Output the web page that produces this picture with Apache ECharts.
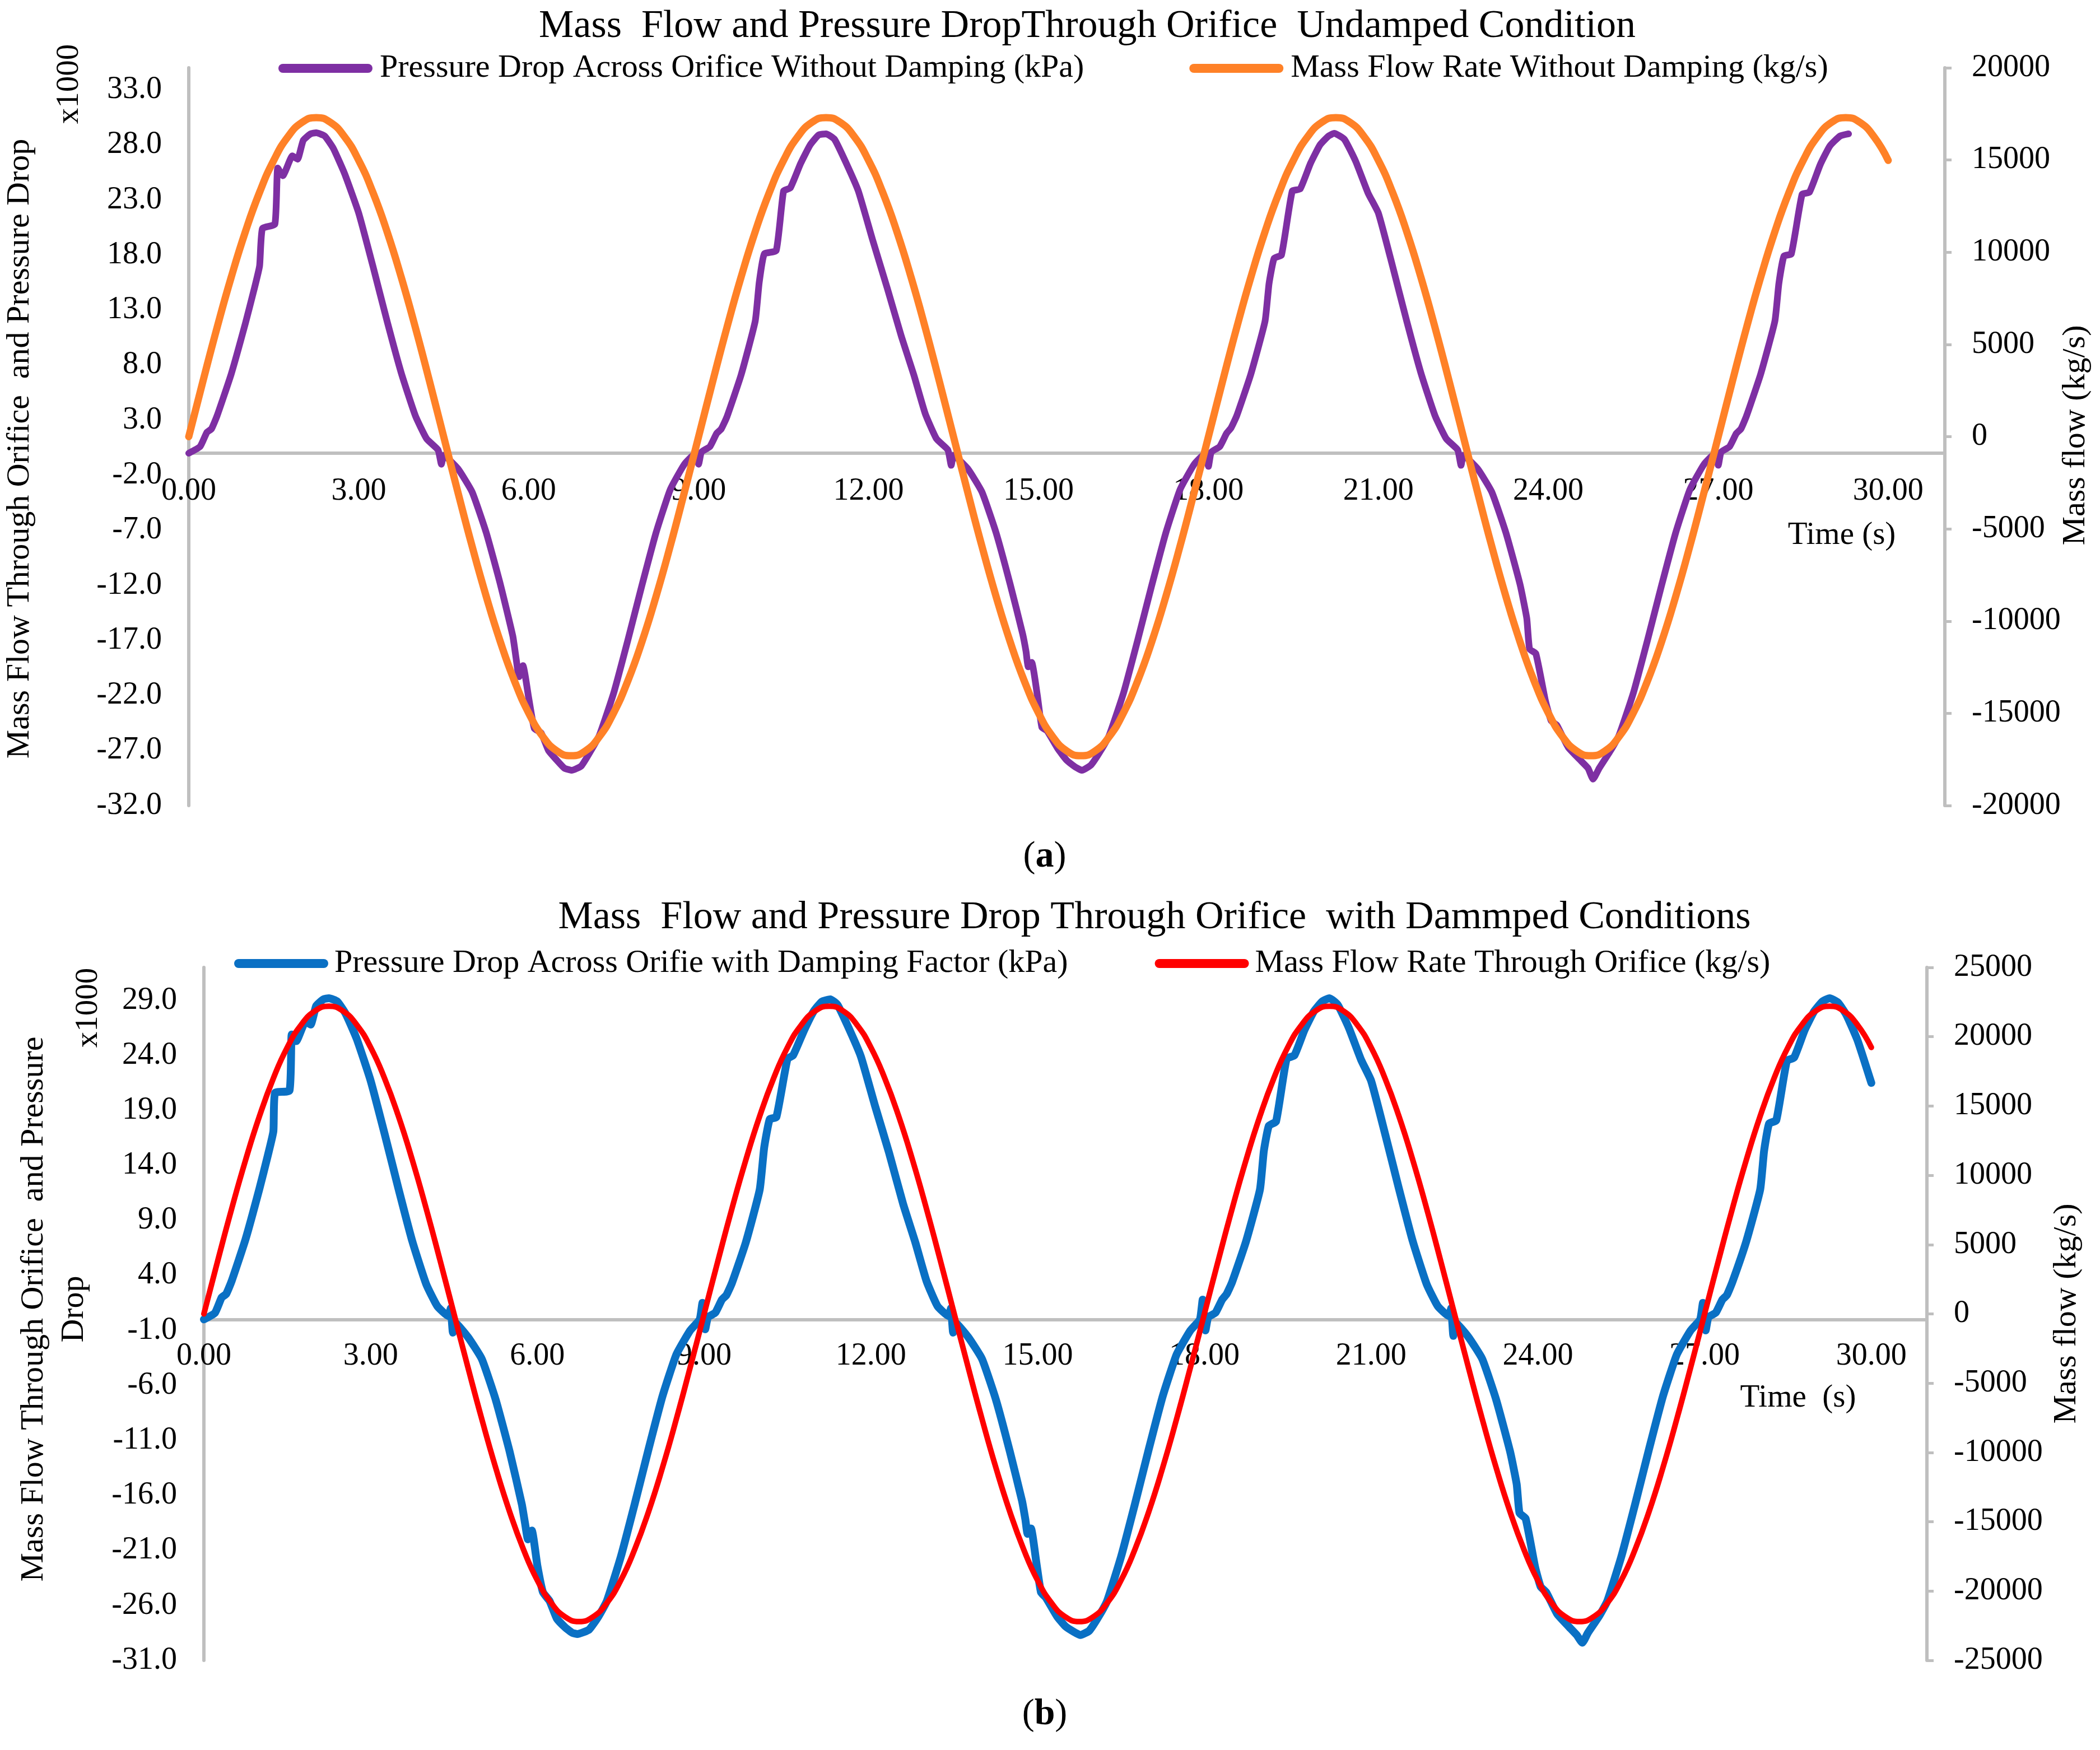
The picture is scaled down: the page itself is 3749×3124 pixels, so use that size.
<!DOCTYPE html>
<html>
<head>
<meta charset="utf-8">
<title>Mass Flow and Pressure Drop Through Orifice</title>
<script src="https://cdn.jsdelivr.net/npm/echarts@6/dist/echarts.min.js"></script>
<style>
html, body { margin: 0; padding: 0; background: #fff; }
#main { width: 3749px; height: 3124px; }
</style>
</head>
<body>
<div id="main"></div>
<script>
// time axis ticks (s) and left-axis label positions (x1000)
var timeTicks = [0, 3, 6, 9, 12, 15, 18, 21, 24, 27, 30];
var leftTicksA = [-32, -27, -22, -17, -12, -7, -2, 3, 8, 13, 18, 23, 28, 33];
var leftTicksB = [-31, -26, -21, -16, -11, -6, -1, 4, 9, 14, 19, 24, 29];

// mass flow samples, every 0.25 s
var massTime = [0,0.25,0.5,0.75,1,1.25,1.5,1.75,2,2.25,2.5,2.75,3,3.25,3.5,3.75,4,4.25,4.5,4.75,5,5.25,5.5,5.75,6,6.25,6.5,6.75,7,7.25,7.5,7.75,8,8.25,8.5,8.75,
  9,9.25,9.5,9.75,10,10.25,10.5,10.75,11,11.25,11.5,11.75,12,12.25,12.5,12.75,13,13.25,13.5,13.75,14,14.25,14.5,14.75,15,15.25,15.5,15.75,16,16.25,16.5,16.75,17,17.25,17.5,17.75,
  18,18.25,18.5,18.75,19,19.25,19.5,19.75,20,20.25,20.5,20.75,21,21.25,21.5,21.75,22,22.25,22.5,22.75,23,23.25,23.5,23.75,24,24.25,24.5,24.75,25,25.25,25.5,25.75,26,26.25,26.5,26.75,
  27,27.25,27.5,27.75,28,28.25,28.5,28.75,29,29.25,29.5,29.75,30];

// (a) mass flow without damping, kg/s
var flowUndamped = [0,3000,5920,8650,11120,13250,14980,16260,17040,17300,17040,16260,14980,13250,11120,8650,5920,3000,0,-3000,-5920,-8650,-11120,-13250,-14980,-16260,-17040,-17300,-17040,-16260,-14980,-13250,-11120,-8650,-5920,-3000,
  0,3000,5920,8650,11120,13250,14980,16260,17040,17300,17040,16260,14980,13250,11120,8650,5920,3000,0,-3000,-5920,-8650,-11120,-13250,-14980,-16260,-17040,-17300,-17040,-16260,-14980,-13250,-11120,-8650,-5920,-3000,
  0,3000,5920,8650,11120,13250,14980,16260,17040,17300,17040,16260,14980,13250,11120,8650,5920,3000,0,-3000,-5920,-8650,-11120,-13250,-14980,-16260,-17040,-17300,-17040,-16260,-14980,-13250,-11120,-8650,-5920,-3000,
  0,3000,5920,8650,11120,13250,14980,16260,17040,17300,17040,16260,14980];

// (b) mass flow through orifice with damping, kg/s
var flowDamped = [0,3850,7590,11100,14270,17000,19230,20860,21860,22200,21860,20860,19230,17000,14270,11100,7590,3850,0,-3850,-7590,-11100,-14270,-17000,-19230,-20860,-21860,-22200,-21860,-20860,-19230,-17000,-14270,-11100,-7590,-3850,
  0,3850,7590,11100,14270,17000,19230,20860,21860,22200,21860,20860,19230,17000,14270,11100,7590,3850,0,-3850,-7590,-11100,-14270,-17000,-19230,-20860,-21860,-22200,-21860,-20860,-19230,-17000,-14270,-11100,-7590,-3850,
  0,3850,7590,11100,14270,17000,19230,20860,21860,22200,21860,20860,19230,17000,14270,11100,7590,3850,0,-3850,-7590,-11100,-14270,-17000,-19230,-20860,-21860,-22200,-21860,-20860,-19230,-17000,-14270,-11100,-7590,-3850,
  0,3850,7590,11100,14270,17000,19230,20860,21860,22200,21860,20860,19230];

// (a) pressure drop without damping, kPa x1000
var dropTimeA = [0,0.2,0.32,0.4,0.5,0.75,1,1.15,1.25,1.3,1.52,1.57,1.66,1.83,1.92,2.02,2.15,2.25,2.4,2.55,2.75,3,3.25,3.5,3.75,4,4.2,4.4,4.46,4.5,4.75,5,5.25,5.5,5.72,5.78,5.83,5.9,6,6.1,6.22,6.35,6.5,6.63,6.76,6.93,7.1,7.25,7.5,7.75,8,8.25,8.5,8.75,8.95,
  9,9.05,9.2,9.32,9.4,9.5,9.75,10,10.07,10.16,10.37,10.5,10.62,10.8,10.97,11.12,11.25,11.4,11.6,11.82,12.07,12.33,12.58,12.8,13,13.2,13.4,13.46,13.5,13.75,14,14.25,14.5,14.72,14.78,14.82,14.88,14.98,15.06,15.15,15.35,15.5,15.65,15.77,15.93,16.1,16.25,16.5,16.75,17,17.25,17.5,17.75,17.95,
  18,18.05,18.2,18.32,18.4,18.5,18.75,19,19.07,19.16,19.29,19.48,19.62,19.8,19.97,20.12,20.22,20.4,20.6,20.82,21,21.25,21.5,21.75,22,22.2,22.4,22.46,22.5,22.75,23,23.25,23.5,23.62,23.67,23.78,23.95,24.05,24.15,24.35,24.55,24.7,24.79,24.9,25.1,25.25,25.5,25.75,26,26.25,26.5,26.75,26.95,
  27,27.05,27.2,27.32,27.4,27.5,27.75,28,28.07,28.16,28.29,28.48,28.61,28.8,28.97,29.15,29.3];
var dropUndamped = [0,0.6,1.9,2.2,3.4,7.2,11.8,14.8,17.0,20.4,20.8,25.9,25.2,27.0,26.7,28.4,29.0,29.1,28.8,27.7,25.4,21.8,17.0,12.0,7.3,3.4,1.3,0.3,-1.0,-0.2,-1.4,-3.5,-7.2,-11.9,-16.6,-18.7,-20.3,-19.3,-22.2,-25.0,-25.4,-27.0,-27.9,-28.6,-28.8,-28.4,-27.0,-25.6,-21.8,-17.0,-12.0,-7.2,-3.3,-1.0,0.0,
  -1.0,0.1,0.6,1.8,2.2,3.3,7.1,12.0,15.5,18.1,18.4,23.8,24.1,26.3,28.0,28.9,29.0,28.5,26.4,23.8,19.4,15.0,10.6,7.1,3.6,1.3,0.3,-1.1,-0.2,-1.4,-3.5,-7.2,-11.9,-16.4,-18.0,-19.4,-19.0,-22.0,-24.9,-25.2,-26.9,-27.9,-28.5,-28.8,-28.3,-27.0,-25.6,-21.8,-17.0,-12.0,-7.2,-3.3,-1.0,0.0,
  -1.2,0.1,0.6,1.8,2.3,3.4,7.2,12.0,15.4,17.7,18.0,23.8,24.0,26.3,28.0,28.8,29.05,28.5,26.5,23.6,21.8,17.0,12.0,7.3,3.4,1.3,0.3,-1.1,-0.2,-1.4,-3.5,-7.2,-11.9,-15.0,-17.8,-18.2,-22.5,-24.3,-24.7,-26.7,-27.8,-28.6,-29.6,-28.6,-27.0,-25.6,-21.8,-17.0,-12.0,-7.2,-3.3,-1.0,0.0,
  -1.1,0.1,0.6,1.8,2.2,3.4,7.2,12.0,15.4,17.9,18.1,23.5,23.7,26.2,27.9,28.8,29.0];

// (b) pressure drop with damping factor, kPa x1000
var dropTimeB = [0,0.2,0.32,0.4,0.5,0.75,1,1.15,1.25,1.28,1.54,1.58,1.66,1.83,1.92,2.02,2.15,2.25,2.4,2.55,2.75,3,3.25,3.5,3.75,4,4.2,4.4,4.44,4.48,4.52,4.75,5,5.25,5.5,5.72,5.78,5.83,5.9,6,6.1,6.22,6.35,6.5,6.63,6.72,6.93,7.1,7.25,7.5,7.75,8,8.25,8.5,8.75,8.92,8.97,
  9.02,9.07,9.2,9.32,9.4,9.5,9.75,10,10.08,10.18,10.3,10.5,10.6,10.8,10.97,11.12,11.27,11.4,11.6,11.82,12.07,12.33,12.58,12.8,13,13.2,13.4,13.44,13.48,13.52,13.75,14,14.25,14.5,14.72,14.78,14.82,14.88,14.98,15.06,15.15,15.35,15.5,15.65,15.77,15.93,16.1,16.25,16.5,16.75,17,17.25,17.5,17.75,17.92,17.97,
  18.02,18.07,18.2,18.32,18.4,18.5,18.75,19,19.07,19.16,19.29,19.48,19.62,19.8,19.97,20.12,20.25,20.4,20.6,20.82,21,21.25,21.5,21.75,22,22.2,22.4,22.44,22.48,22.52,22.75,23,23.25,23.5,23.62,23.67,23.78,23.95,24.05,24.15,24.35,24.55,24.7,24.8,24.9,25.1,25.25,25.5,25.75,26,26.25,26.5,26.75,26.92,26.97,
  27.02,27.07,27.2,27.32,27.4,27.5,27.75,28,28.07,28.16,28.29,28.48,28.61,28.8,28.97,29.12,29.25,29.4,29.55,29.75,30];
var dropDamped = [0,0.6,2.0,2.3,3.5,7.3,11.9,14.9,17.1,20.6,20.8,25.9,25.3,27.1,26.8,28.5,29.1,29.2,28.9,27.8,25.5,21.7,16.9,11.9,7.1,3.2,1.2,0.3,1.0,-1.2,-0.3,-1.6,-3.6,-7.3,-12.0,-16.8,-18.6,-20.0,-19.2,-22.4,-24.8,-25.6,-27.2,-28.0,-28.5,-28.6,-28.2,-27.0,-25.6,-21.6,-16.8,-11.8,-7.0,-3.2,-1.0,0.0,1.5,
  -0.9,0.2,0.6,1.8,2.2,3.3,7.0,11.8,15.6,18.2,18.4,23.7,24.0,26.3,28.0,28.9,29.1,28.6,26.5,23.9,19.5,15.1,10.5,7.0,3.5,1.2,0.3,1.0,-1.2,-0.3,-1.6,-3.6,-7.3,-12.0,-16.5,-18.2,-19.5,-19.0,-22.2,-24.8,-25.3,-27.0,-27.9,-28.4,-28.7,-28.3,-27.0,-25.6,-21.6,-16.8,-11.8,-7.0,-3.2,-1.0,0.0,1.8,
  -1.0,0.2,0.6,1.8,2.3,3.4,7.1,11.8,15.3,17.6,18.0,23.7,24.0,26.3,28.0,28.9,29.2,28.6,26.5,23.6,21.7,16.9,11.9,7.1,3.2,1.2,0.3,1.0,-1.5,-0.3,-1.6,-3.6,-7.3,-12.0,-15.0,-17.6,-18.1,-22.5,-24.3,-24.8,-26.8,-27.9,-28.7,-29.4,-28.5,-27.0,-25.6,-21.6,-16.8,-11.8,-7.0,-3.2,-1.0,0.0,1.5,
  -1.0,0.2,0.6,1.8,2.2,3.4,7.1,11.8,15.3,17.8,18.1,23.5,23.8,26.3,28.0,28.9,29.2,28.8,27.7,25.4,21.5];

var FONT = '"Liberation Serif", "Times New Roman", serif';
var AXIS_GREY = '#bfbfbf';

// grid geometry
var gridA = { left: 337, top: 121, width: 3135, height: 1317 };
var gridB = { left: 364, top: 1727, width: 3076, height: 1237 };

function zip(xs, ys) {
    return xs.map(function (x, i) { return [x, ys[i]]; });
}

function txt(x, y, text, size, rotate, extra) {
    var style = {
        text: text,
        fill: '#000',
        fontSize: size,
        fontFamily: FONT,
        align: 'center',
        textAlign: 'center',
        verticalAlign: 'middle',
        textVerticalAlign: 'middle'
    };
    if (extra) {
        for (var k in extra) { style[k] = extra[k]; }
    }
    return { type: 'text', x: x, y: y, rotation: rotate ? Math.PI / 2 : 0, silent: true, style: style };
}

// time axis drawn across the zero of the left axis: pull it up from the grid bottom
function timeAxis(gridIndex, grid, yMin, yMax, margin) {
    var lift = grid.height * (0 - yMin) / (yMax - yMin);
    return {
        type: 'value', gridIndex: gridIndex, position: 'bottom', min: 0, max: 31,
        offset: -lift,
        axisLine: { show: true, onZero: false, lineStyle: { color: AXIS_GREY, width: 6 } },
        axisTick: { show: false },
        splitLine: { show: false },
        axisLabel: {
            customValues: timeTicks, margin: margin, color: '#000', fontSize: 56, fontFamily: FONT,
            formatter: function (v) { return v.toFixed(2); }
        }
    };
}

function leftAxis(gridIndex, min, max, ticks) {
    return {
        type: 'value', gridIndex: gridIndex, position: 'left', min: min, max: max,
        axisLine: { show: true, onZero: false, lineStyle: { color: AXIS_GREY, width: 6 } },
        axisTick: { show: false },
        splitLine: { show: false },
        axisLabel: {
            customValues: ticks, margin: 48, color: '#000', fontSize: 56, fontFamily: FONT,
            formatter: function (v) { return v.toFixed(1); }
        }
    };
}

function rightAxis(gridIndex, lim) {
    return {
        type: 'value', gridIndex: gridIndex, position: 'right', min: -lim, max: lim, interval: 5000,
        axisLine: { show: true, onZero: false, lineStyle: { color: AXIS_GREY, width: 6 } },
        axisTick: { show: true, length: 12, lineStyle: { color: AXIS_GREY, width: 5 } },
        splitLine: { show: false },
        axisLabel: {
            margin: 48, color: '#000', fontSize: 56, fontFamily: FONT,
            formatter: function (v) { return String(v); }
        }
    };
}

var capsule = 'path://M8,0 L160,0 A8,8 0 0 1 160,16 L8,16 A8,8 0 0 1 8,0 Z';

var chart = echarts.init(document.getElementById('main'));
chart.setOption({
    animation: false,
    backgroundColor: '#fff',
    grid: [
        { left: gridA.left, top: gridA.top, width: gridA.width, height: gridA.height, containLabel: false, outerBoundsMode: 'none' },
        { left: gridB.left, top: gridB.top, width: gridB.width, height: gridB.height, containLabel: false, outerBoundsMode: 'none' }
    ],
    legend: [
        {
            data: ['Pressure Drop Across Orifice Without Damping (kPa)', 'Mass Flow Rate Without Damping (kg/s)'],
            left: 497, top: 93, padding: 0, itemGap: 188, itemWidth: 168, itemHeight: 16, icon: capsule,
            textStyle: { fontSize: 58, fontFamily: FONT, color: '#000', padding: [0, 0, 0, 8] }
        },
        {
            data: ['Pressure Drop Across Orifie with Damping Factor (kPa)', 'Mass Flow Rate Through Orifice (kg/s)'],
            left: 418, top: 1691, padding: 0, itemGap: 155, itemWidth: 168, itemHeight: 16, icon: capsule,
            textStyle: { fontSize: 58, fontFamily: FONT, color: '#000', padding: [0, 0, 0, 6] }
        }
    ],
    xAxis: [timeAxis(0, gridA, -32, 35, 40), timeAxis(1, gridB, -31, 32, 38)],
    yAxis: [
        leftAxis(0, -32, 35, leftTicksA),
        rightAxis(0, 20000),
        leftAxis(1, -31, 32, leftTicksB),
        rightAxis(1, 25000)
    ],
    series: [
        {
            name: 'Pressure Drop Across Orifice Without Damping (kPa)', type: 'line',
            xAxisIndex: 0, yAxisIndex: 0, data: zip(dropTimeA, dropUndamped),
            smooth: 0.15,
            symbol: 'none', showSymbol: false,
            itemStyle: { color: '#7e2fa3' },
            lineStyle: { color: '#7e2fa3', width: 12, cap: 'round', join: 'round' }
        },
        {
            name: 'Mass Flow Rate Without Damping (kg/s)', type: 'line',
            xAxisIndex: 0, yAxisIndex: 1, data: zip(massTime, flowUndamped), smooth: true,
            symbol: 'none', showSymbol: false,
            itemStyle: { color: '#ff8127' },
            lineStyle: { color: '#ff8127', width: 13, cap: 'round', join: 'round' }
        },
        {
            name: 'Pressure Drop Across Orifie with Damping Factor (kPa)', type: 'line',
            xAxisIndex: 1, yAxisIndex: 2, data: zip(dropTimeB, dropDamped),
            smooth: 0.15,
            symbol: 'none', showSymbol: false,
            itemStyle: { color: '#0a70c4' },
            lineStyle: { color: '#0a70c4', width: 14, cap: 'round', join: 'round' }
        },
        {
            name: 'Mass Flow Rate Through Orifice (kg/s)', type: 'line',
            xAxisIndex: 1, yAxisIndex: 3, data: zip(massTime, flowDamped), smooth: true,
            symbol: 'none', showSymbol: false,
            itemStyle: { color: '#ff0000' },
            lineStyle: { color: '#ff0000', width: 10, cap: 'round', join: 'round' }
        }
    ],
    graphic: [
        txt(1941, 48, 'Mass  Flow and Pressure DropThrough Orifice  Undamped Condition', 70),
        txt(36, 801, 'Mass Flow Through Orifice  and Pressure Drop', 58, true),
        txt(124, 150, 'x1000', 57, true),
        txt(3706, 777, 'Mass flow (kg/s)', 58, true),
        txt(3288, 956, 'Time (s)', 57),
        txt(1865, 1530, '{n|(}{b|a}{n|)}', 66, false, {
            rich: { n: { fontSize: 66, fontFamily: FONT, fill: '#000' }, b: { fontSize: 66, fontFamily: FONT, fontWeight: 'bold', fill: '#000' } }
        }),
        txt(2061, 1639, 'Mass  Flow and Pressure Drop Through Orifice  with Dammped Conditions', 70),
        txt(97, 2337, 'Mass Flow Through Orifice  and Pressure\nDrop', 58, true, { lineHeight: 72 }),
        txt(158, 1799, 'x1000', 57, true),
        txt(3690, 2345, 'Mass flow (kg/s)', 58, true),
        txt(3210, 2496, 'Time  (s)', 57),
        txt(1865, 3061, '{n|(}{b|b}{n|)}', 66, false, {
            rich: { n: { fontSize: 66, fontFamily: FONT, fill: '#000' }, b: { fontSize: 66, fontFamily: FONT, fontWeight: 'bold', fill: '#000' } }
        })
    ]
});
</script>
</body>
</html>
